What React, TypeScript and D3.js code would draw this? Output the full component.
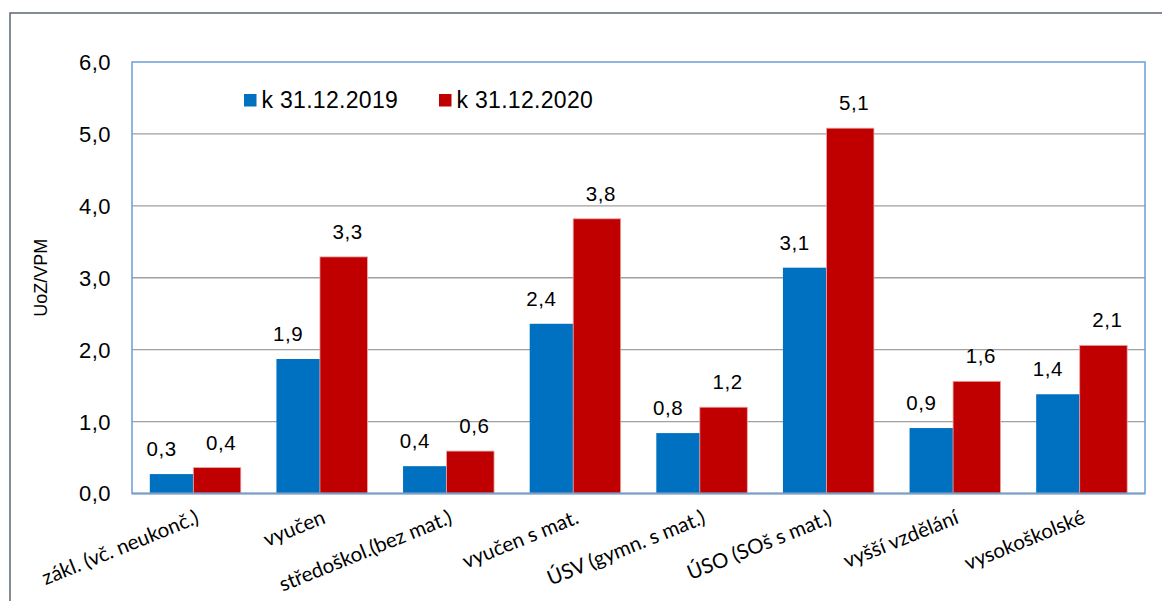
import React from "react";
import * as d3 from "d3";

const categories = [
  "zákl. (vč. neukonč.)",
  "vyučen",
  "středoškol.(bez mat.)",
  "vyučen s mat.",
  "ÚSV (gymn. s mat.)",
  "ÚSO (SOš s mat.)",
  "vyšší vzdělání",
  "vysokoškolské",
];
const series2019 = [0.27, 1.87, 0.38, 2.36, 0.84, 3.14, 0.91, 1.38];
const series2020 = [0.36, 3.29, 0.59, 3.82, 1.2, 5.08, 1.56, 2.06];
const seriesNames = ["k 31.12.2019", "k 31.12.2020"];
const yTicks = [0, 1, 2, 3, 4, 5, 6];
const yTitle = "UoZ/VPM";

const W = 1162;
const H = 601;
const L = 132, R = 1145, T = 62, B = 493.5;
const BLUE = "#0070c0";
const RED = "#c00000";
const ARIAL = "'Liberation Sans', Arial, sans-serif";

const fmt = (v: number) => d3.format(".1f")(v).replace(".", ",");

export default function App() {
  const x = d3.scaleBand<string>().domain(categories).range([L, R]);
  const y = d3.scaleLinear().domain([0, 6]).range([B, T]);
  const bw = 45.5;

  return (
    <svg width={W} height={H} style={{ position: "absolute", left: 0, top: 0 }}>
      <rect x={0} y={0} width={W} height={H} fill="#fff" />
      <rect x={10} y={13} width={1300} height={800} fill="#fff" stroke="#5b6573" strokeWidth={1.5} />
      {yTicks.slice(1, -1).map((t) => (
        <line key={t} x1={L} x2={R} y1={y(t)} y2={y(t)} stroke="#a0a0a0" strokeWidth={1.3} />
      ))}
      {categories.map((c, i) => {
        const cx = (x(c) as number) + x.bandwidth() / 2;
        const v1 = series2019[i];
        const v2 = series2020[i];
        return (
          <g key={c}>
            <rect x={cx - bw} y={y(v1)} width={bw - 2} height={B - y(v1)} fill={BLUE} />
            <rect x={cx - 2} y={y(v2)} width={bw + 2} height={B - y(v2)} fill={RED} stroke="#e8a8a8" strokeWidth={0.8} />
            <text x={cx - bw / 2 - 11} y={y(v1) - 18} textAnchor="middle" fontFamily={ARIAL} fontSize={20.5} letterSpacing={0.6} fill="#000">
              {fmt(v1)}
            </text>
            <text x={cx + bw / 2 + 3} y={y(v2) - 18} textAnchor="middle" fontFamily={ARIAL} fontSize={20.5} letterSpacing={0.6} fill="#000">
              {fmt(v2)}
            </text>
          </g>
        );
      })}
      <rect x={L} y={T} width={R - L} height={B - T} fill="none" stroke="#6a9fd8" strokeWidth={1.5} />
      <line x1={L} x2={R} y1={B} y2={B} stroke="#7d9dc4" strokeWidth={1.8} />
      {yTicks.map((t) => (
        <text key={t} x={111} y={y(t)} dy="0.36em" textAnchor="end" fontFamily={ARIAL} fontSize={22} letterSpacing={0.5} fill="#000">
          {fmt(t)}
        </text>
      ))}
      <text
        transform={`translate(47,${(T + B) / 2}) rotate(-90)`}
        textAnchor="middle"
        fontFamily={ARIAL}
        fontSize={18}
        fill="#000"
      >
        {yTitle}
      </text>
      {categories.map((c) => {
        const cx = (x(c) as number) + x.bandwidth() / 2;
        return (
          <text
            key={c}
            transform={`translate(${cx - 1},${B + 15}) rotate(-22)`}
            textAnchor="end"
            dy="0.75em"
            fontFamily="Lato, 'Open Sans', sans-serif"
            fontSize={20.5}
            fill="#000"
          >
            {c}
          </text>
        );
      })}
      {seriesNames.map((n, i) => {
        const lx = 244 + i * 195;
        return (
          <g key={n}>
            <rect x={lx} y={94} width={12.5} height={12.5} fill={i === 0 ? BLUE : RED} />
            <text x={lx + 17.5} y={107.5} fontFamily={ARIAL} fontSize={23} letterSpacing={0.3} fill="#000">
              {n}
            </text>
          </g>
        );
      })}
    </svg>
  );
}
